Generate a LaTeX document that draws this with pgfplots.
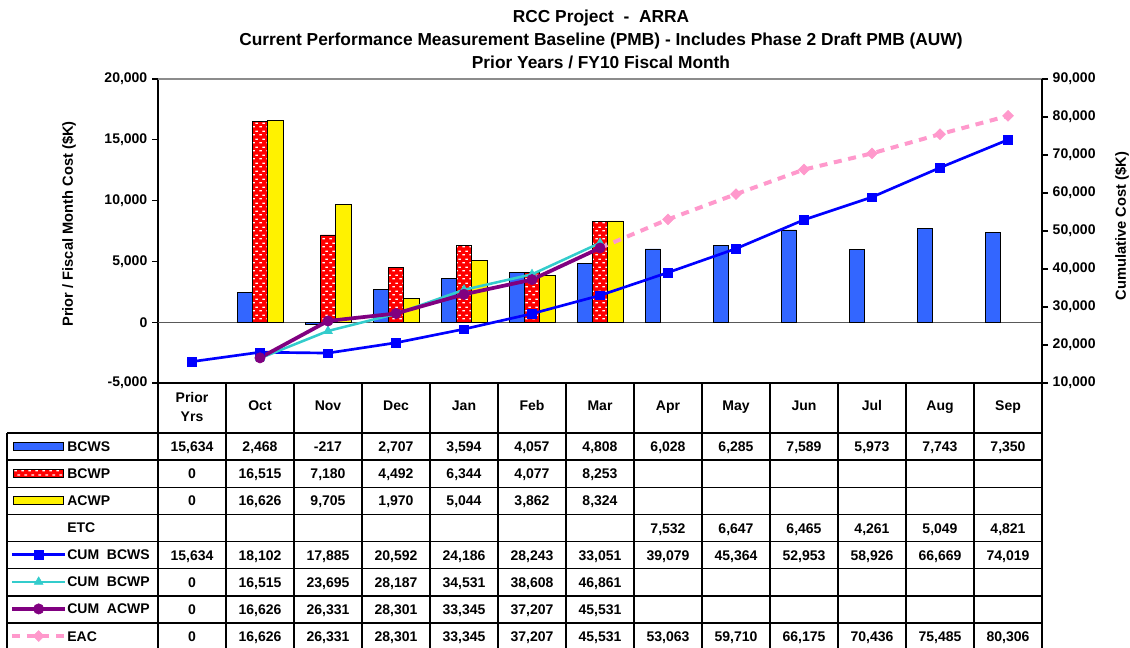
\documentclass[border=0pt]{standalone}
\usepackage{pgfplots}
\pgfplotsset{compat=1.18}
\usepackage{fontspec}
\setmainfont{Liberation Sans}
\usetikzlibrary{patterns}
\definecolor{bcws}{RGB}{51,102,255}
\definecolor{cumbcws}{RGB}{0,0,255}
\definecolor{cumbcwp}{RGB}{51,204,204}
\definecolor{cumacwp}{RGB}{128,0,128}
\definecolor{eac}{RGB}{255,153,204}
\pgfdeclarepatternformonly{whitedash}{\pgfqpoint{0pt}{0pt}}{\pgfqpoint{5.25pt}{6pt}}{\pgfqpoint{5.25pt}{6pt}}{%
 \pgfpathrectangle{\pgfqpoint{0.3pt}{0.5pt}}{\pgfqpoint{2.2pt}{1pt}}%
 \pgfpathrectangle{\pgfqpoint{2.9pt}{3.5pt}}{\pgfqpoint{2.2pt}{1pt}}%
 \pgfusepath{fill}}
\newcommand\tf{\bfseries\fontsize{10.5}{12}\selectfont}
\pgfplotsset{
  barkey/.style={legend image code/.code={\draw[##1] (0.75pt,-3pt) rectangle (38.5pt,3pt);}},
  linekey/.style={legend image code/.code={\draw[mark repeat=2,mark phase=2,##1] plot coordinates {(0pt,0pt) (20pt,0pt) (40pt,0pt)};}},
  nokey/.style={legend image code/.code={\pgfpathrectangle{\pgfqpoint{0pt}{0pt}}{\pgfqpoint{40pt}{0.1pt}}\pgfusepath{use as bounding box}}},
  sCUMBCWS/.style={color=cumbcws, line width=2pt, mark=square*, mark size=3.2pt, mark options={solid,line width=0.4pt}},
  sCUMBCWP/.style={color=cumbcwp, line width=1.9pt, mark=triangle*, mark size=3.8pt, mark options={solid,line width=0.4pt}},
  sCUMACWP/.style={color=cumacwp, line width=2.8pt, mark=*, mark size=3.9pt, mark options={solid,line width=0.4pt}},
  sEAC/.style={color=eac, line width=3pt, dash pattern=on 6pt off 5pt, mark=square*, mark size=2.9pt, mark options={solid,rotate=45,line width=0.4pt}},
  common/.style={scale only axis, width=663pt, height=228pt,
    at={(118.5pt,-287.25pt)}, anchor=south west,
    xmin=-0.5, xmax=12.5, axis x line=none, clip=false,
    y axis line style={black, line width=0.9pt},
    tick style={black, line width=0.9pt},
    tick align=outside, major tick length=4.5pt,
    scaled y ticks=false,
    yticklabel style={font=\tf, /pgf/number format/1000 sep={,}, /pgf/number format/assume math mode=true},
    /pgf/number format/1000 sep={,},
    /pgf/number format/assume math mode=true},
}
\newcommand\trow[2]{\foreach \v [count=\k from 0] in {#2} {\node[font=\tf, anchor=base] at ({192+68*\k}, {433+27.15*(#1+0.5)+5}) {\v};}}
\begin{document}
\begin{tikzpicture}
\path[use as bounding box] (0pt,0pt) rectangle (847.5pt,-485.25pt);
% ---------- left axis: monthly bars ----------
\begin{axis}[common,
  ymin=-5000, ymax=20000,
  ytick={-5000,0,5000,10000,15000,20000},
  axis y line*=left,
  ybar=0pt, bar width=11.5pt]
\draw[black!45, line width=0.8pt] (rel axis cs:0,1) -- (rel axis cs:1,1);
\draw[black!65, line width=0.9pt] (axis cs:-0.5,0) -- (axis cs:12.5,0);
\addplot[draw=black, line width=0.6pt, fill=bcws] coordinates {(1,2468) (2,-217) (3,2707) (4,3594) (5,4057) (6,4808) (7,6028) (8,6285) (9,7589) (10,5973) (11,7743) (12,7350)};
\addplot[draw=black, line width=0.6pt, fill=red, postaction={pattern=whitedash, pattern color=white}] coordinates {(1,16515) (2,7180) (3,4492) (4,6344) (5,4077) (6,8253)};
\addplot[draw=black, line width=0.6pt, fill=yellow] coordinates {(1,16626) (2,9705) (3,1970) (4,5044) (5,3862) (6,8324)};
\end{axis}
% ---------- right axis: cumulative lines ----------
\begin{axis}[common,
  ymin=10000, ymax=90000,
  ytick={10000,20000,30000,40000,50000,60000,70000,80000,90000},
  axis y line*=right,
  legend style={at={(axis description cs:-0.16742,-0.16447)}, anchor=north west,
    draw=none, fill=none, inner sep=0pt, outer sep=0pt, row sep=0pt, column sep=0pt,
    font=\tf, nodes={inner sep=0pt, text height=13.9pt, text depth=6.4pt}},
  legend cell align=left]
\addlegendimage{barkey, draw=black, line width=0.6pt, fill=bcws}
\addlegendentry{BCWS}
\addlegendimage{barkey, draw=black, line width=0.6pt, fill=red, postaction={pattern=whitedash, pattern color=white}}
\addlegendentry{BCWP}
\addlegendimage{barkey, draw=black, line width=0.6pt, fill=yellow}
\addlegendentry{ACWP}
\addlegendimage{nokey}
\addlegendentry{ETC}
\addlegendimage{linekey, sCUMBCWS}
\addlegendentry{CUM\ \ BCWS}
\addlegendimage{linekey, sCUMBCWP}
\addlegendentry{CUM\ \ BCWP}
\addlegendimage{linekey, sCUMACWP}
\addlegendentry{CUM\ \ ACWP}
\addlegendimage{linekey, sEAC}
\addlegendentry{EAC}
\addplot[sEAC, forget plot, mark indices={2,3,4,5,6,7}] coordinates {(6,45531) (7,53063) (8,59710) (9,66175) (10,70436) (11,75485) (12,80306)};
\addplot[sCUMBCWS, forget plot] coordinates {(0,15634) (1,18102) (2,17885) (3,20592) (4,24186) (5,28243) (6,33051) (7,39079) (8,45364) (9,52953) (10,58926) (11,66669) (12,74019)};
\addplot[sCUMBCWP, forget plot] coordinates {(1,16515) (2,23695) (3,28187) (4,34531) (5,38608) (6,46861)};
\addplot[sCUMACWP, forget plot] coordinates {(1,16626) (2,26331) (3,28301) (4,33345) (5,37207) (6,45531)};
\end{axis}
% ---------- titles ----------
\begin{scope}[x=0.75pt,y=-0.75pt]
\node[font=\bfseries\fontsize{13}{15}\selectfont, anchor=base] at (601,22.7) {RCC Project\ \ -\ \ ARRA};
\node[font=\bfseries\fontsize{13}{15}\selectfont, anchor=base] at (601,45) {Current Performance Measurement Baseline (PMB) - Includes Phase 2 Draft PMB (AUW)};
\node[font=\bfseries\fontsize{13}{15}\selectfont, anchor=base] at (601,68.3) {Prior Years / FY10 Fiscal Month};
\node[font=\bfseries\fontsize{11}{13}\selectfont, rotate=90] at (69,224) {Prior / Fiscal Month Cost (\$K)};
\node[font=\bfseries\fontsize{11}{13}\selectfont, rotate=90] at (1122,226) {Cumulative Cost (\$K)};
% ---------- data table ----------
\begin{scope}[line width=1pt]
\draw (158,383) -- (1042,383);
\foreach \r in {0,...,8} \draw (7,{433+27.15*\r}) -- (1042,{433+27.15*\r});
\draw (7,433) -- (7,650);
\foreach \k in {0,...,13} \draw ({158+68*\k},383) -- ({158+68*\k},650);
\end{scope}
\node[font=\tf, anchor=base] at (192,402.7) {Prior};
\node[font=\tf, anchor=base] at (192,421.7) {Yrs};
\foreach \m [count=\k from 1] in {Oct,Nov,Dec,Jan,Feb,Mar,Apr,May,Jun,Jul,Aug,Sep}
  \node[font=\tf, anchor=base] at ({192+68*\k},410.7) {\m};
\trow{0}{{15,634},{2,468},{-217},{2,707},{3,594},{4,057},{4,808},{6,028},{6,285},{7,589},{5,973},{7,743},{7,350}}
\trow{1}{{0},{16,515},{7,180},{4,492},{6,344},{4,077},{8,253}}
\trow{2}{{0},{16,626},{9,705},{1,970},{5,044},{3,862},{8,324}}
\trow{3}{{},{},{},{},{},{},{},{7,532},{6,647},{6,465},{4,261},{5,049},{4,821}}
\trow{4}{{15,634},{18,102},{17,885},{20,592},{24,186},{28,243},{33,051},{39,079},{45,364},{52,953},{58,926},{66,669},{74,019}}
\trow{5}{{0},{16,515},{23,695},{28,187},{34,531},{38,608},{46,861}}
\trow{6}{{0},{16,626},{26,331},{28,301},{33,345},{37,207},{45,531}}
\trow{7}{{0},{16,626},{26,331},{28,301},{33,345},{37,207},{45,531},{53,063},{59,710},{66,175},{70,436},{75,485},{80,306}}
\end{scope}
\end{tikzpicture}
\end{document}
